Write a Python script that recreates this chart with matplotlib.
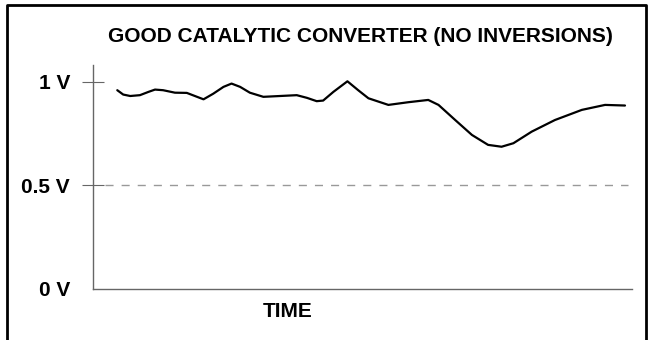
import matplotlib
matplotlib.use('Agg')
import matplotlib.pyplot as plt
from matplotlib.lines import Line2D

plt.rcParams['font.family'] = ['Liberation Sans', 'DejaVu Sans']

# O2 sensor voltage over time
time = [4.5, 5.6, 6.9, 8.7, 10.3, 11.5, 13.0, 15.2, 17.4, 18.9, 20.5, 22.3,
        24.2, 25.7, 27.3, 29.1, 31.6, 34.7, 37.8, 39.7, 41.5, 42.7, 44.6,
        47.2, 49.2, 51.1, 54.8, 58.5, 62.2, 64.1, 67.2, 70.3, 73.3, 75.8,
        78.0, 81.4, 85.7, 90.7, 95.0, 98.7]
voltage = [0.960, 0.939, 0.932, 0.936, 0.952, 0.963, 0.960, 0.948, 0.947,
           0.932, 0.916, 0.943, 0.976, 0.992, 0.976, 0.948, 0.928, 0.932,
           0.936, 0.923, 0.907, 0.910, 0.952, 1.003, 0.960, 0.921, 0.889,
           0.902, 0.913, 0.889, 0.816, 0.744, 0.696, 0.687, 0.704, 0.760,
           0.816, 0.865, 0.889, 0.886]

ytick_vals = [0, 0.5, 1]
ytick_labels = ['0 V', '0.5 V', '1 V']
threshold = 0.5

fig = plt.figure(figsize=(6.51, 3.40), dpi=100)
ax = fig.add_axes([0.1429, 0.15, 0.8279, 0.659])

ax.plot(time, voltage, color='black', lw=1.6, solid_joinstyle='round',
        solid_capstyle='round')
ax.axhline(threshold, xmin=0.022, xmax=0.993, color='#999999', lw=1.0,
           dashes=(5.8, 5.8))

ax.set_xlim(0, 100)
ax.set_ylim(0, 1.082)

for s in ['top', 'right']:
    ax.spines[s].set_visible(False)
for s in ['left', 'bottom']:
    ax.spines[s].set_color('#666666')
    ax.spines[s].set_linewidth(1.0)

ax.set_xticks([])
ax.set_yticks(ytick_vals)
ax.set_yticklabels(ytick_labels, fontsize=15, fontweight='bold')
ax.tick_params(axis='y', direction='inout', length=16, width=0.8,
               color='#666666', pad=8.5)
ax.yaxis.get_major_ticks()[0].tick1line.set_visible(False)

fig.text(0.554, 0.894, 'GOOD CATALYTIC CONVERTER (NO INVERSIONS)',
         ha='center', va='center', fontsize=15, fontweight='bold')
fig.text(0.4416, 0.084, 'TIME', ha='center', va='center', fontsize=15,
         fontweight='bold')

# frame around the figure (open at the bottom)
x0, x1 = 7 / 651, 645.5 / 651
y0, y1 = 0.0, 1 - 5 / 340
fig.add_artist(Line2D([x0, x0, x1, x1], [y0, y1, y1, y0],
                      transform=fig.transFigure, color='black', lw=2.0))

fig.savefig('out.png', dpi=100)
